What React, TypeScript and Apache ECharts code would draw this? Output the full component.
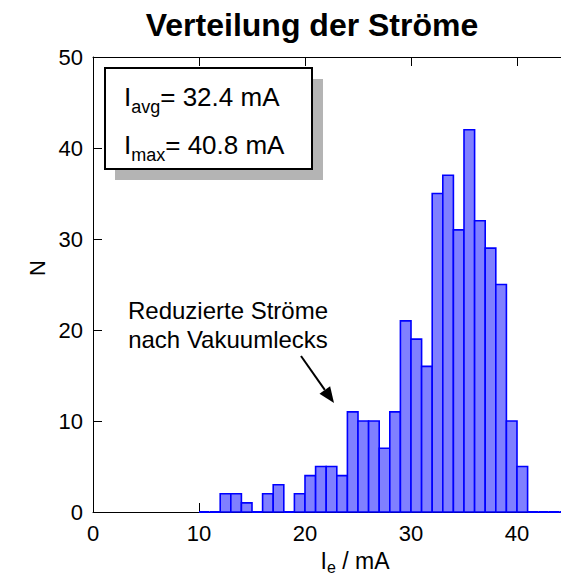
import React, { useEffect, useRef } from "react";
import * as echarts from "echarts";

// Histogram of electron-beam currents: lower edge of each 1 mA bin and its count
const binStarts = [10, 11, 12, 13, 14, 15, 16, 17, 18, 19, 20, 21, 22, 23, 24, 25, 26, 27, 28, 29, 30, 31, 32, 33, 34, 35, 36, 37, 38, 39, 40, 41, 42, 43, 44];
const counts = [0, 0, 2, 2, 1, 0, 2, 3, 0, 2, 4, 5, 5, 4, 11, 10, 10, 7, 11, 21, 19, 16, 35, 37, 31, 42, 32, 29, 25, 10, 5, 0, 0, 0, 0];
const binWidth = 1;

const xTickValues = [0, 10, 20, 30, 40];
const yTickValues = [0, 10, 20, 30, 40, 50];

const avgCurrent = "32.4";
const maxCurrent = "40.8";

const FONT = "'Liberation Sans', Arial, Helvetica, sans-serif";

export default function App() {
  const ref = useRef<HTMLDivElement>(null);

  useEffect(() => {
    if (!ref.current) return;
    const chart = echarts.init(ref.current, undefined, { renderer: "svg" });

    const data = binStarts.map((s, i) => [s, counts[i]]);

    const frameLine = { lineStyle: { color: "#000", width: 1 } };
    const innerTick = { inside: true, length: 9, lineStyle: { color: "#000", width: 1 } };

    const xBase = {
      type: "value" as const,
      min: 0,
      max: 45,
      interval: 10,
      axisLine: { show: true, onZero: false, ...frameLine },
      axisTick: innerTick,
      splitLine: { show: false },
    };
    const yBase = {
      type: "value" as const,
      min: 0,
      max: 50,
      interval: 10,
      axisLine: { show: true, onZero: false, ...frameLine },
      axisTick: innerTick,
      splitLine: { show: false },
    };

    const arrowTip = [334, 403];
    const arrowTail = [301, 356];
    const dx = arrowTip[0] - arrowTail[0];
    const dy = arrowTip[1] - arrowTail[1];
    const len = Math.hypot(dx, dy);
    const ux = dx / len;
    const uy = dy / len;
    const headLen = 16;
    const headHalf = 6.5;
    const bx = arrowTip[0] - ux * headLen;
    const by = arrowTip[1] - uy * headLen;

    chart.setOption({
      animation: false,
      backgroundColor: "#fff",
      grid: { left: 93, top: 57, width: 477, height: 455, containLabel: false },
      xAxis: [
        {
          ...xBase,
          position: "bottom",
          axisLabel: {
            fontSize: 22,
            color: "#000",
            fontFamily: FONT,
            margin: 10,
            formatter: (v: number) => (xTickValues.includes(v) ? String(v) : ""),
          },
        },
        { ...xBase, position: "top", axisLabel: { show: false } },
      ],
      yAxis: [
        {
          ...yBase,
          position: "left",
          axisLabel: {
            fontSize: 22,
            color: "#000",
            fontFamily: FONT,
            margin: 10,
            formatter: (v: number) => (yTickValues.includes(v) ? String(v) : ""),
          },
        },
        { ...yBase, position: "right", axisLabel: { show: false } },
      ],
      series: [
        {
          type: "custom",
          xAxisIndex: 0,
          yAxisIndex: 0,
          data,
          encode: { x: 0, y: 1 },
          clip: false,
          renderItem: (_params: any, api: any) => {
            const x0 = api.value(0);
            const v = api.value(1);
            const p0 = api.coord([x0, 0]);
            const p1 = api.coord([x0 + binWidth, v]);
            if (v === 0) {
              return {
                type: "line",
                shape: { x1: p0[0], y1: p0[1], x2: p1[0], y2: p0[1] },
                style: { stroke: "#0000ff", lineWidth: 2 },
              };
            }
            return {
              type: "rect",
              shape: { x: p0[0], y: p1[1], width: p1[0] - p0[0], height: p0[1] - p1[1] },
              style: { fill: "#8080ff", stroke: "#0000ff", lineWidth: 1.6 },
            };
          },
        },
      ],
      graphic: [
        // title
        {
          type: "text",
          x: 312,
          y: 25,
          z: 20,
          style: {
            text: "Verteilung der Ströme",
            font: `bold 32px ${FONT}`,
            fill: "#000",
            align: "center",
            verticalAlign: "middle",
          },
        },
        // y axis name
        {
          type: "text",
          x: 37,
          y: 268,
          rotation: Math.PI / 2,
          z: 20,
          style: {
            text: "N",
            font: `22px ${FONT}`,
            fill: "#000",
            align: "center",
            verticalAlign: "middle",
          },
        },
        // x axis name with subscript
        {
          type: "text",
          x: 355,
          y: 546,
          z: 20,
          style: {
            text: "{m|I}{s|e}{m| / mA}",
            align: "center",
            verticalAlign: "top",
            rich: {
              m: { fontSize: 23, fontFamily: FONT, fill: "#000", lineHeight: 29, verticalAlign: "middle" },
              s: { fontSize: 16, fontFamily: FONT, fill: "#000", lineHeight: 16, verticalAlign: "bottom" },
            },
          },
        },
        // statistics box with drop shadow
        {
          type: "rect",
          z: 20,
          shape: { x: 115, y: 79, width: 208, height: 101 },
          style: { fill: "#b4b4b4" },
        },
        {
          type: "rect",
          z: 21,
          shape: { x: 105, y: 68, width: 207, height: 101 },
          style: { fill: "#fff", stroke: "#000", lineWidth: 2 },
        },
        {
          type: "text",
          x: 124,
          y: 78,
          z: 22,
          style: {
            text: `{m|I}{s|avg}{m|= ${avgCurrent} mA}`,
            rich: {
              m: { fontSize: 26, fontFamily: FONT, fill: "#000", lineHeight: 38, verticalAlign: "middle" },
              s: { fontSize: 18, fontFamily: FONT, fill: "#000", lineHeight: 18, verticalAlign: "bottom" },
            },
          },
        },
        {
          type: "text",
          x: 124,
          y: 126,
          z: 22,
          style: {
            text: `{m|I}{s|max}{m|= ${maxCurrent} mA}`,
            rich: {
              m: { fontSize: 26, fontFamily: FONT, fill: "#000", lineHeight: 38, verticalAlign: "middle" },
              s: { fontSize: 18, fontFamily: FONT, fill: "#000", lineHeight: 18, verticalAlign: "bottom" },
            },
          },
        },
        // annotation and arrow
        {
          type: "text",
          x: 228,
          y: 325,
          z: 20,
          style: {
            text: "Reduzierte Ströme\nnach Vakuumlecks",
            font: `24px ${FONT}`,
            lineHeight: 29,
            fill: "#000",
            align: "center",
            verticalAlign: "middle",
          },
        },
        {
          type: "line",
          z: 20,
          shape: { x1: arrowTail[0], y1: arrowTail[1], x2: bx, y2: by },
          style: { stroke: "#000", lineWidth: 2 },
        },
        {
          type: "polygon",
          z: 20,
          shape: {
            points: [
              [arrowTip[0], arrowTip[1]],
              [bx - uy * headHalf, by + ux * headHalf],
              [bx + uy * headHalf, by - ux * headHalf],
            ],
          },
          style: { fill: "#000" },
        },
      ],
    });

    return () => chart.dispose();
  }, []);

  return (
    <div
      style={{
        position: "fixed",
        left: 0,
        top: 0,
        width: 561,
        height: 576,
        overflow: "hidden",
        background: "#fff",
      }}
    >
      <div ref={ref} style={{ width: 600, height: 576 }} />
    </div>
  );
}
